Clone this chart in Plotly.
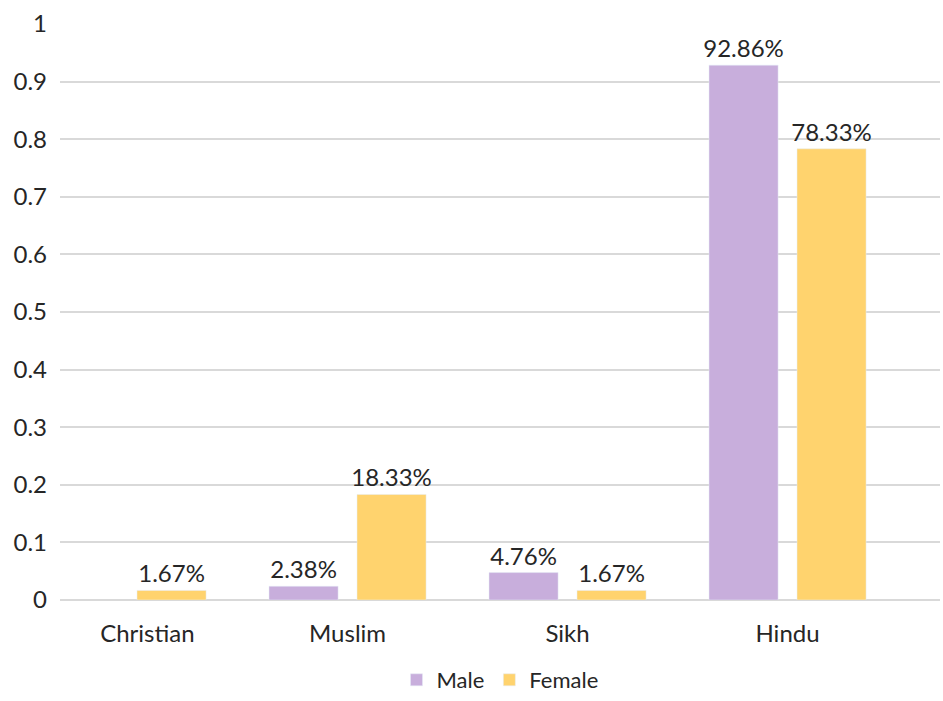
import plotly.graph_objects as go

categories = ["Christian", "Muslim", "Sikh", "Hindu"]
male = [None, 0.0238, 0.0476, 0.9286]
female = [0.0167, 0.1833, 0.0167, 0.7833]
y_ticks = [0, 0.1, 0.2, 0.3, 0.4, 0.5, 0.6, 0.7, 0.8, 0.9, 1]
y_tick_text = ["0", "0.1", "0.2", "0.3", "0.4", "0.5", "0.6", "0.7", "0.8", "0.9", "1"]

pos = list(range(len(categories)))
FONT = "Lato"
TXT = "#262626"
FS = 24

fig = go.Figure()
fig.add_trace(go.Bar(
    name="Male", x=pos, y=male, marker_color="#C8AEDC",
    texttemplate="%{y:.2%}", textposition="outside", cliponaxis=False,
    constraintext="none",
    textfont=dict(family=FONT, size=FS, color=TXT),
))
fig.add_trace(go.Bar(
    name="Female", x=pos, y=female, marker_color="#FFD36E",
    texttemplate="%{y:.2%}", textposition="outside", cliponaxis=False,
    constraintext="none",
    textfont=dict(family=FONT, size=FS, color=TXT),
))

fig.update_layout(
    width=943, height=701,
    margin=dict(l=60, r=3, t=24, b=101),
    paper_bgcolor="white", plot_bgcolor="white",
    barmode="group", bargap=0.2, bargroupgap=0.215,
    font=dict(family=FONT, size=FS, color=TXT),
    showlegend=True,
    legend=dict(orientation="h", x=0.5, xanchor="center",
                yref="container", y=-0.017, yanchor="bottom",
                font=dict(family=FONT, size=22, color=TXT), itemwidth=30,
                traceorder="normal"),
    xaxis=dict(range=[-0.307, 3.693], tickmode="array",
               tickvals=[0.09, 1, 2, 3], ticktext=categories,
               showgrid=False, zeroline=False, showline=False, ticks="",
               ticklabelstandoff=17, automargin=False),
    yaxis=dict(range=[0, 1], tickmode="array", tickvals=y_ticks, ticktext=y_tick_text,
               showgrid=True, gridcolor="#D9D9D9", gridwidth=1.5,
               zeroline=True, zerolinecolor="#D9D9D9", zerolinewidth=1.5,
               showline=False, ticks="", ticklabelstandoff=12, automargin=False),
)

fig.write_html("out.html")
